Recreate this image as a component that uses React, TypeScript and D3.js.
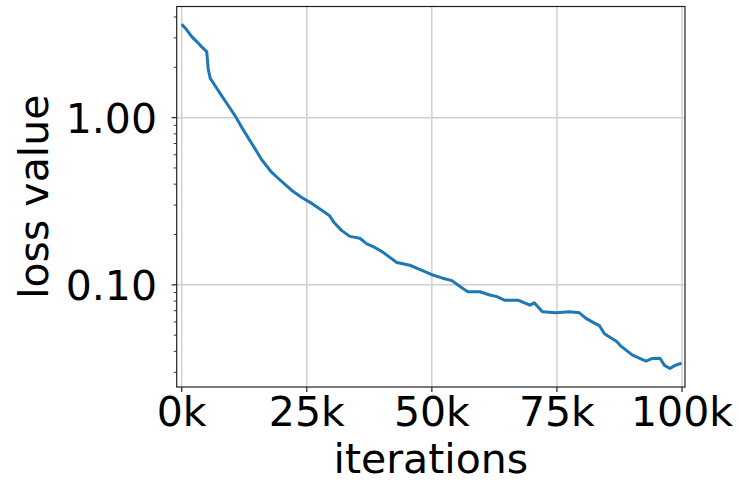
import React from "react";
import { scaleLinear, scaleLog, line } from "d3";

// iterations (k) and loss values
const iters = [
  0, 1, 2, 3, 4, 5, 5.3, 5.7, 8, 10, 10.9, 12, 14, 16, 18, 20, 22, 24, 26, 28, 29.5, 30.5,
  32, 33.6, 35.6, 37, 38.5, 40.2, 41.6, 43, 45.6, 47.8, 50, 52, 54, 56.2, 57.2, 59.6,
  61.6, 63, 64.5, 67.2, 69.6, 70.5, 72.1, 74.8, 77.5, 79.5, 80.8, 82.5, 83.5, 84.5,
  85.9, 86.9, 87.8, 90.1, 92.8, 94.1, 95.6, 96.5, 97.6, 98.6, 99.9,
];
const loss = [
  3.62, 3.35, 3.05, 2.85, 2.65, 2.48, 1.95, 1.72, 1.35, 1.1, 1.0, 0.875, 0.7, 0.56, 0.47, 0.415,
  0.367, 0.333, 0.307, 0.279, 0.26, 0.235, 0.211, 0.195, 0.19, 0.176, 0.168, 0.157, 0.146,
  0.136, 0.131, 0.123, 0.115, 0.11, 0.106, 0.095, 0.091, 0.091, 0.087, 0.085, 0.081, 0.081,
  0.0756, 0.078, 0.069, 0.068, 0.069, 0.068, 0.063, 0.059, 0.057, 0.051, 0.048, 0.046, 0.043,
  0.038, 0.035, 0.0363, 0.0364, 0.033, 0.0316, 0.033, 0.034,
];
const xTicks = [0, 25, 50, 75, 100];
const yTicks = [0.1, 1];
const yMinor = [0.03, 0.04, 0.05, 0.06, 0.07, 0.08, 0.09, 0.2, 0.3, 0.4, 0.5, 0.6, 0.7, 0.8, 0.9, 2, 3, 4];

const W = 739, H = 482;
const L = 176.7, R = 685, T = 6.5, B = 387;
const FONT = "DejaVu Sans";

export default function App() {
  const x = scaleLinear().domain([-1, 100.6]).range([L, R]);
  const y = scaleLog().domain([0.0245, 4.62]).range([B, T]);
  const pts = iters.map((d, i) => [d, loss[i]] as [number, number]);
  const path = line<[number, number]>().x(d => x(d[0])).y(d => y(d[1]))(pts) || "";

  return (
    <svg width={W} height={H} style={{ position: "absolute", left: 0, top: 0 }} fontFamily={FONT}>
      <rect width={W} height={H} fill="#fff" />
      {/* grid */}
      {xTicks.map(t => (
        <line key={"gx" + t} x1={x(t)} x2={x(t)} y1={T} y2={B} stroke="#d0d0d0" strokeWidth={1.5} />
      ))}
      {yTicks.map(t => (
        <line key={"gy" + t} x1={L} x2={R} y1={y(t)} y2={y(t)} stroke="#d0d0d0" strokeWidth={1.5} />
      ))}
      <path d={path} fill="none" stroke="#1f77b4" strokeWidth={3} strokeLinejoin="round" />
      {/* frame */}
      <rect x={L} y={T} width={R - L} height={B - T} fill="none" stroke="#222" strokeWidth={1.2} />
      {/* x ticks */}
      {xTicks.map(t => (
        <g key={"xt" + t}>
          <line x1={x(t)} x2={x(t)} y1={B} y2={B + 5} stroke="#222" strokeWidth={1.2} />
          <text x={x(t)} y={426} textAnchor="middle" fontSize={41} fill="#000">{t + "k"}</text>
        </g>
      ))}
      {/* y ticks */}
      {yTicks.map(t => (
        <g key={"yt" + t}>
          <line x1={L - 5} x2={L} y1={y(t)} y2={y(t)} stroke="#222" strokeWidth={1.2} />
          <text x={157} y={y(t) + 15} textAnchor="end" fontSize={41} fill="#000">{t.toFixed(2)}</text>
        </g>
      ))}
      {yMinor.map(t => (
        <line key={"ym" + t} x1={L - 3} x2={L} y1={y(t)} y2={y(t)} stroke="#222" strokeWidth={0.9} />
      ))}
      <text x={(L + R) / 2} y={473} textAnchor="middle" fontSize={41} fill="#000">iterations</text>
      <text transform={`translate(48, ${(T + B) / 2}) rotate(-90)`} textAnchor="middle" fontSize={41} fill="#000">
        loss value
      </text>
    </svg>
  );
}
